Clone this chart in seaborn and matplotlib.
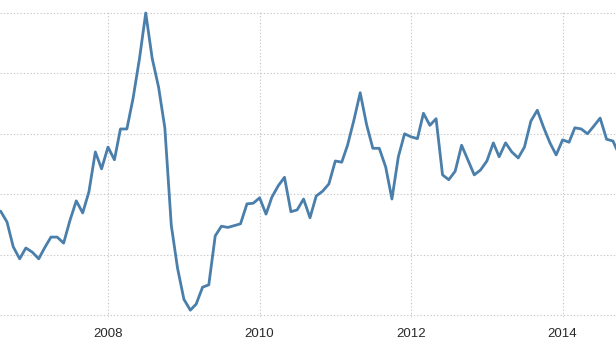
import matplotlib
matplotlib.use("Agg")
import matplotlib.pyplot as plt
import seaborn as sns
import pandas as pd

# Monthly series, Aug 2006 .. Oct 2014 (grid units, gridlines at 0..5)
start_month = "2006-08-01"
values = [
    1.72, 1.54, 1.13, 0.93, 1.11, 1.04, 0.93, 1.11, 1.29, 1.29,
    1.19, 1.56, 1.89, 1.69, 2.04, 2.70, 2.42, 2.78, 2.57, 3.08,
    3.08, 3.59, 4.25, 5.00, 4.25, 3.77, 3.10, 1.49, 0.78, 0.26,
    0.08, 0.18, 0.46, 0.50, 1.31, 1.47, 1.45, 1.48, 1.51, 1.84,
    1.85, 1.94, 1.67, 1.95, 2.14, 2.28, 1.71, 1.74, 1.92, 1.61,
    1.97, 2.05, 2.17, 2.55, 2.53, 2.81, 3.23, 3.68, 3.15, 2.76,
    2.76, 2.45, 1.92, 2.62, 3.00, 2.95, 2.92, 3.34, 3.14, 3.25,
    2.32, 2.24, 2.38, 2.81, 2.57, 2.32, 2.40, 2.55, 2.85, 2.62,
    2.85, 2.70, 2.60, 2.78, 3.21, 3.39, 3.11, 2.85, 2.65, 2.90,
    2.86, 3.10, 3.08, 3.00, 3.13, 3.26, 2.91, 2.88, 2.65,
]
tick_years = ["2008", "2010", "2012", "2014"]
y_grid = [0, 1, 2, 3, 4, 5]

dates = pd.date_range(start_month, periods=len(values), freq="MS")
df = pd.DataFrame({"date": dates, "value": values})

sns.set_style("white")
plt.rcParams["font.family"] = ["Liberation Sans", "DejaVu Sans"]

W, H = 616, 346
fig = plt.figure(figsize=(W / 100, H / 100), dpi=100)
pad_units = 0.03
unit_px = 60.4
bottom_px = 315 + pad_units * unit_px
top_px = 13 - pad_units * unit_px
ax = fig.add_axes([0, (H - bottom_px) / H, 1, (bottom_px - top_px) / H])

line_color = "#4a7eab"
sns.lineplot(data=df, x="date", y="value", ax=ax, color=line_color,
             linewidth=2.0, clip_on=False)

# x range: Jan 2008 at x=108px, 2 years = 151.5px
px_per_day = 151.5 / (2 * 365.25)
ref = pd.Timestamp("2008-01-01")
left = ref - pd.Timedelta(days=108 / px_per_day)
right = ref + pd.Timedelta(days=(W - 108) / px_per_day)
ax.set_xlim(left, right)
ax.set_ylim(y_grid[0] - pad_units, y_grid[-1] + pad_units)

ax.set_xticks([pd.Timestamp(f"{y}-01-01") for y in tick_years])
ax.set_xticklabels(tick_years)
ax.set_yticks(y_grid)
ax.set_yticklabels([])
ax.tick_params(axis="both", length=0)
ax.tick_params(axis="x", pad=8, labelsize=9.5, labelcolor="#2a2a2a")

ax.grid(True, axis="both", color="#c8c8c8", linestyle=(0, (1.2, 1.8)), linewidth=0.8)
for s in ax.spines.values():
    s.set_visible(False)
ax.set_xlabel("")
ax.set_ylabel("")
ax.patch.set_alpha(0)

fig.savefig("out.png", dpi=100)
